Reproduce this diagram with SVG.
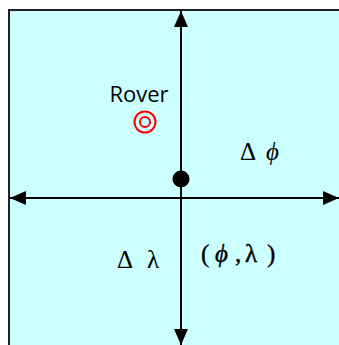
<svg xmlns="http://www.w3.org/2000/svg" width="339" height="345" viewBox="0 0 339 345">
<style>
.ax{stroke:#000;stroke-width:2;fill:none}
.math{font-family:"Liberation Serif","DejaVu Serif",serif;font-size:25px;fill:#000}
.it{font-style:italic}
.bd{stroke:#000;stroke-width:0.4}
</style>
<defs>
<marker id="ah" viewBox="0 0 16 14" refX="16" refY="7" markerWidth="16" markerHeight="14" markerUnits="userSpaceOnUse" orient="auto">
<path d="M0,0 L16,7 L0,14 Z" fill="#000"/>
</marker>
</defs>
<g id="panel">
<rect x="9" y="10" width="340" height="345" fill="#ccffff" stroke="#222" stroke-width="2"/>
</g>
<g id="connectors">
<line class="ax" x1="181" y1="198" x2="181" y2="11" marker-end="url(#ah)"/>
<line class="ax" x1="181" y1="198" x2="181" y2="345" marker-end="url(#ah)"/>
<line class="ax" x1="181" y1="198" x2="10" y2="198" marker-end="url(#ah)"/>
<line class="ax" x1="181" y1="198" x2="339" y2="198" marker-end="url(#ah)"/>
</g>
<g id="origin">
<circle cx="181" cy="179" r="8.5" fill="#000"/>
</g>
<g id="rover">
<text x="139" y="102" text-anchor="middle" font-family="'Open Sans','Liberation Sans',sans-serif" font-size="22" fill="#000">Rover</text>
<circle cx="145" cy="122" r="10.5" fill="none" stroke="#f00" stroke-width="2"/>
<circle cx="145" cy="122" r="5" fill="none" stroke="#f00" stroke-width="2"/>
</g>
<g id="dphi">
<text class="math" y="160"><tspan x="240">Δ</tspan><tspan class="it" x="266">ϕ</tspan></text>
</g>
<g id="dlambda">
<text class="math" y="268"><tspan x="117">Δ</tspan><tspan x="147">λ</tspan></text>
</g>
<g id="coord">
<text class="math bd" y="262"><tspan x="201">(</tspan><tspan class="it" x="215">ϕ</tspan><tspan x="235">,</tspan><tspan x="245">λ</tspan><tspan x="267">)</tspan></text>
</g>
</svg>
